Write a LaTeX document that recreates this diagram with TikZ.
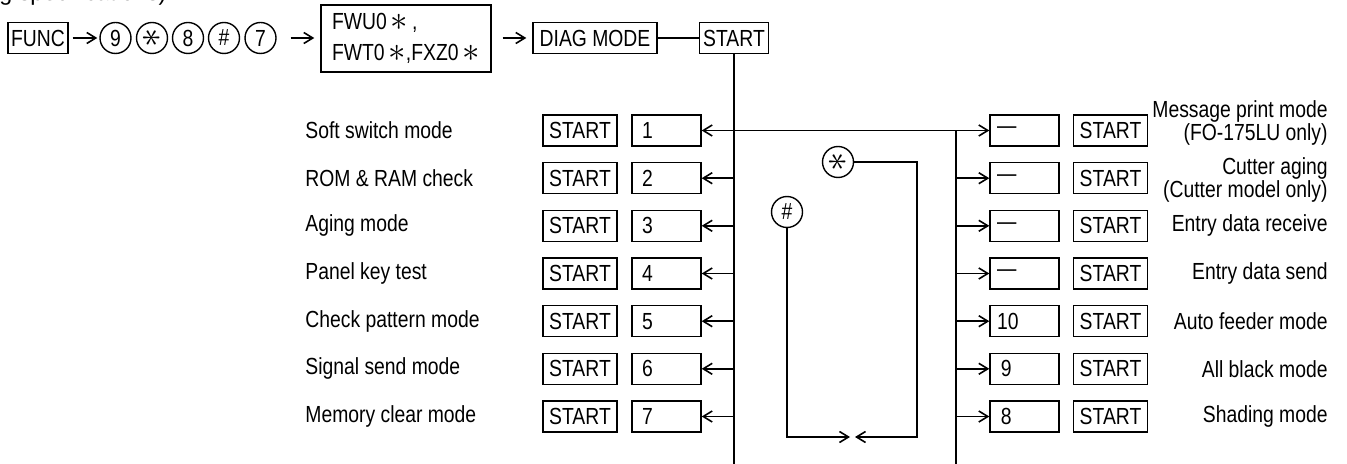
\documentclass[tikz,border=0pt]{standalone}
\usepackage{fontspec}
\setmainfont{Liberation Sans}[FakeStretch=0.83]
\newfontfamily\widesans{Liberation Sans}
\usetikzlibrary{arrows.meta}

\newcommand{\bigast}{\raisebox{-0.3pt}{\scalebox{1.45}{$\ast$}}}
\newcommand{\keyast}{\rotatebox{90}{\scalebox{1.6}{$\ast$}}}

\begin{document}
\begin{tikzpicture}[x=0.5pt, y=-0.5pt, >={Straight Barb[length=4.5pt,width=5.5pt]},
    font=\fontsize{11.65}{14}\selectfont,
    box/.style={draw, line width=0.7pt, inner sep=0pt, minimum height=15.5pt},
    startbox/.style={box, minimum width=37pt},
    numbox/.style={box, text width=24.5pt, inner xsep=5pt, align=left},
    rnumbox/.style={box, text width=27.5pt, inner xsep=3.5pt, align=left},
    keycirc/.style={draw, circle, line width=0.7pt, inner sep=0pt, minimum size=15.5pt},
    link/.style={line width=0.8pt},
    modelabel/.style={inner sep=0pt},
    twolines/.style={modelabel, align=right, font=\fontsize{11.65}{8.5}\selectfont}]

    \useasboundingbox (0, 0) rectangle (1347, 464);

    % --- Heading (cut off at the top) ---
    \node[modelabel, anchor=base west, font=\widesans\fontsize{11.65}{14}\selectfont] (headtxt) at (-1, 1) {g specifications)};

    % --- Key sequence ---
    \node[box, inner xsep=1.5pt] (func) at (38, 38) {FUNC};
    \node[keycirc] (c9) at (115.5, 38) {9};
    \node[keycirc] (cast) at (152, 38) {\keyast};
    \node[keycirc] (c8) at (188, 38) {8};
    \node[keycirc] (chash) at (224, 38) {\#};
    \node[keycirc] (c7) at (260.5, 38) {7};
    \node[box, minimum width=85pt, minimum height=33.5pt, align=left] (fwbox) at (406, 38.5)
        {FWU0\,\bigast\,,\\[1.5pt]FWT0\,\bigast,FXZ0\,\bigast};
    \node[box, minimum width=62pt] (diag) at (595, 38) {DIAG MODE};
    \node[box, minimum width=34.5pt] (start0) at (734, 38) {START};

    \draw[link, ->, shorten <=2pt, shorten >=1pt] (func) -- (c9);
    \draw[link, ->, shorten <=7pt, shorten >=3pt] (c7) -- (c7 -| fwbox.west);
    \draw[link, ->, shorten <=5.5pt, shorten >=3pt] (fwbox.east |- diag) -- (diag);
    \draw[link] (diag) -- (start0);

    % --- Left column: modes 1 to 7 ---
    \node[modelabel, anchor=west] (llab1) at (305, 130.5) {Soft switch mode};
    \node[modelabel, anchor=west] (llab2) at (305, 178.2) {ROM \& RAM check};
    \node[modelabel, anchor=west] (llab3) at (305, 225.8) {Aging mode};
    \node[modelabel, anchor=west] (llab4) at (305, 273.5) {Panel key test};
    \node[modelabel, anchor=west] (llab5) at (305, 321.2) {Check pattern mode};
    \node[modelabel, anchor=west] (llab6) at (305, 368.8) {Signal send mode};
    \node[modelabel, anchor=west] (llab7) at (305, 416.5) {Memory clear mode};

    \node[startbox] (lstart1) at (580, 130.5) {START};
    \node[startbox] (lstart2) at (580, 178.2) {START};
    \node[startbox] (lstart3) at (580, 225.8) {START};
    \node[startbox] (lstart4) at (580, 273.5) {START};
    \node[startbox] (lstart5) at (580, 321.2) {START};
    \node[startbox] (lstart6) at (580, 368.8) {START};
    \node[startbox] (lstart7) at (580, 416.5) {START};

    \node[numbox] (lnum1) at (666.5, 130.5) {1};
    \node[numbox] (lnum2) at (666.5, 178.2) {2};
    \node[numbox] (lnum3) at (666.5, 225.8) {3};
    \node[numbox] (lnum4) at (666.5, 273.5) {4};
    \node[numbox] (lnum5) at (666.5, 321.2) {5};
    \node[numbox] (lnum6) at (666.5, 368.8) {6};
    \node[numbox] (lnum7) at (666.5, 416.5) {7};

    % --- Right column: modes 8 to 10 and the others ---
    \node[rnumbox] (rnum1) at (1024.5, 130.5) {---};
    \node[rnumbox] (rnum2) at (1024.5, 178.2) {---};
    \node[rnumbox] (rnum3) at (1024.5, 225.8) {---};
    \node[rnumbox] (rnum4) at (1024.5, 273.5) {---};
    \node[rnumbox] (rnum5) at (1024.5, 321.2) {10};
    \node[rnumbox] (rnum6) at (1024.5, 368.8) {\,9};
    \node[rnumbox] (rnum7) at (1024.5, 416.5) {\,8};

    \node[startbox] (rstart1) at (1110.5, 130.5) {START};
    \node[startbox] (rstart2) at (1110.5, 178.2) {START};
    \node[startbox] (rstart3) at (1110.5, 225.8) {START};
    \node[startbox] (rstart4) at (1110.5, 273.5) {START};
    \node[startbox] (rstart5) at (1110.5, 321.2) {START};
    \node[startbox] (rstart6) at (1110.5, 368.8) {START};
    \node[startbox] (rstart7) at (1110.5, 416.5) {START};

    \node[twolines, anchor=east] (rlab1) at (1328, 123) {Message print mode\\(FO-175LU only)};
    \node[twolines, anchor=east] (rlab2) at (1328, 180) {Cutter aging\\(Cutter model only)};
    \node[modelabel, anchor=east] (rlab3) at (1328, 225.8) {Entry data receive};
    \node[modelabel, anchor=east] (rlab4) at (1328, 273.5) {Entry data send};
    \node[modelabel, anchor=east] (rlab5) at (1328, 321.2) {Auto feeder mode};
    \node[modelabel, anchor=east] (rlab6) at (1328, 368.8) {All black mode};
    \node[modelabel, anchor=east] (rlab7) at (1328, 416.5) {Shading mode};

    % --- Trunks and branches ---
    \coordinate (lbot) at (734, 464);
    \coordinate (rtop) at (956, 130.5);
    \coordinate (rbot) at (956, 464);

    \draw[link] (start0) -- (lbot);
    \draw[link] (rtop) -- (rbot);
    \draw[link, <->] (lnum1) -- (rnum1);

    \draw[link, ->] (start0.south |- lnum2) -- (lnum2);
    \draw[link, ->] (start0.south |- lnum3) -- (lnum3);
    \draw[link, ->] (start0.south |- lnum4) -- (lnum4);
    \draw[link, ->] (start0.south |- lnum5) -- (lnum5);
    \draw[link, ->] (start0.south |- lnum6) -- (lnum6);
    \draw[link, ->] (start0.south |- lnum7) -- (lnum7);

    \draw[link, ->] (rtop |- rnum2) -- (rnum2);
    \draw[link, ->] (rtop |- rnum3) -- (rnum3);
    \draw[link, ->] (rtop |- rnum4) -- (rnum4);
    \draw[link, ->] (rtop |- rnum5) -- (rnum5);
    \draw[link, ->] (rtop |- rnum6) -- (rnum6);
    \draw[link, ->] (rtop |- rnum7) -- (rnum7);

    % --- Key loop in the middle ---
    \node[keycirc] (ast) at (838, 162) {\keyast};
    \node[keycirc] (hash) at (787, 212) {\#};
    \coordinate (loopR) at (917, 437);
    \coordinate (tipL) at (850, 437);
    \coordinate (tipR) at (855, 437);

    \draw[link, ->] (ast) -| (loopR) -- (tipR);
    \draw[link, ->] (hash) |- (tipL);

\end{tikzpicture}
\end{document}
